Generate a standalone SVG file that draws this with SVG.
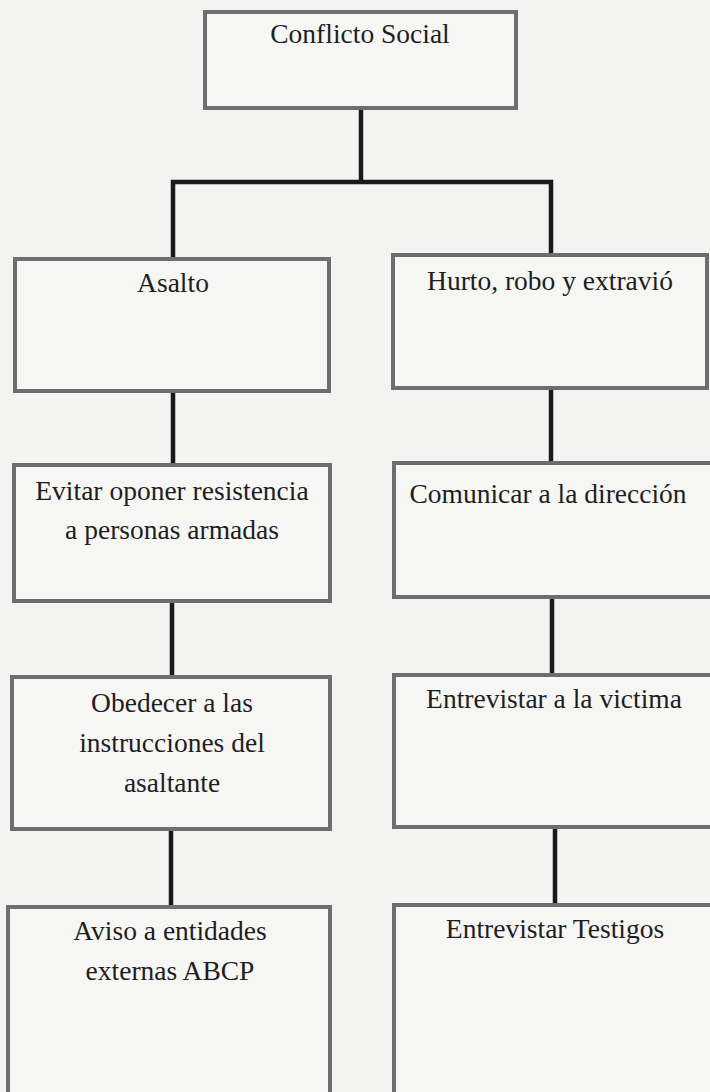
<svg xmlns="http://www.w3.org/2000/svg" width="710" height="1092" viewBox="0 0 710 1092">
  <style>
    .box { fill: #f6f6f4; stroke: #6e6e6e; stroke-width: 4; }
    .lbl { font-family: "Liberation Serif", "Times New Roman", serif; font-size: 27.5px; fill: #1e1e1e; text-anchor: middle; }
    .conn { fill: none; stroke: #1a1a1a; stroke-width: 4.5; }
  </style>
  <rect x="0" y="0" width="710" height="1092" fill="#f3f3f1"/>
  <g id="connectors">
    <line class="conn" x1="361" y1="108" x2="361" y2="182"/>
    <polyline class="conn" points="173,259 173,182 551,182 551,255"/>
    <line class="conn" x1="173" y1="391" x2="173" y2="465"/>
    <line class="conn" x1="551" y1="388" x2="551" y2="463"/>
    <line class="conn" x1="172" y1="601" x2="172" y2="677"/>
    <line class="conn" x1="552" y1="597" x2="552" y2="675"/>
    <line class="conn" x1="171" y1="829" x2="171" y2="907"/>
    <line class="conn" x1="555" y1="827" x2="555" y2="905"/>
  </g>
  <g id="n-conflicto">
    <rect class="box" x="205" y="12" width="311" height="96"/>
    <text class="lbl" x="360" y="43">Conflicto Social</text>
  </g>
  <g id="n-asalto">
    <rect class="box" x="15" y="259" width="314" height="132"/>
    <text class="lbl" x="173" y="292">Asalto</text>
  </g>
  <g id="n-hurto">
    <rect class="box" x="393" y="255" width="314" height="133"/>
    <text class="lbl" x="550" y="290">Hurto, robo y extravió</text>
  </g>
  <g id="n-evitar">
    <rect class="box" x="14" y="465" width="316" height="136"/>
    <text class="lbl" x="172" y="500">Evitar oponer resistencia</text>
    <text class="lbl" x="172" y="539">a personas armadas</text>
  </g>
  <g id="n-comunicar">
    <rect class="box" x="394" y="463" width="318" height="134"/>
    <text class="lbl" x="548" y="503">Comunicar a la dirección</text>
  </g>
  <g id="n-obedecer">
    <rect class="box" x="12" y="677" width="318" height="152"/>
    <text class="lbl" x="172" y="712">Obedecer a las</text>
    <text class="lbl" x="172" y="752">instrucciones del</text>
    <text class="lbl" x="172" y="792">asaltante</text>
  </g>
  <g id="n-victima">
    <rect class="box" x="394" y="675" width="318" height="152"/>
    <text class="lbl" x="554" y="708">Entrevistar a la victima</text>
  </g>
  <g id="n-aviso">
    <rect class="box" x="8" y="907" width="322" height="200"/>
    <text class="lbl" x="170" y="940">Aviso a entidades</text>
    <text class="lbl" x="170" y="980">externas ABCP</text>
  </g>
  <g id="n-testigos">
    <rect class="box" x="394" y="905" width="322" height="200"/>
    <text class="lbl" x="555" y="938">Entrevistar Testigos</text>
  </g>
</svg>
